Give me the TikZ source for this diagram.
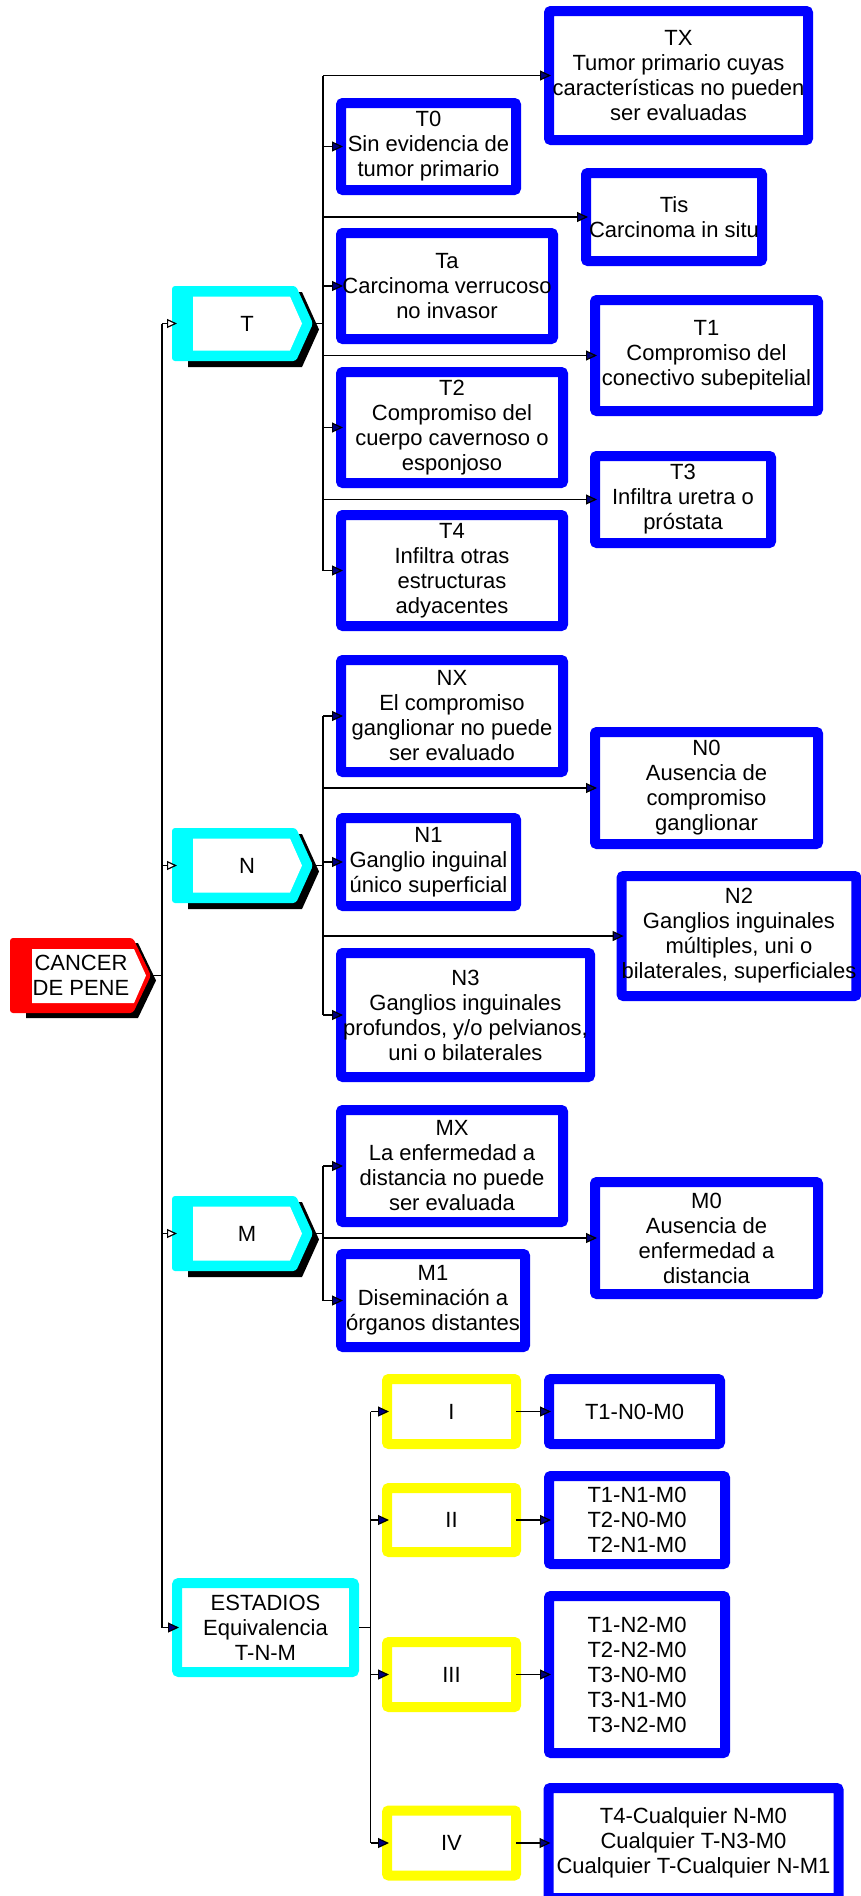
\documentclass[tikz,border=0pt]{standalone}
\usepackage{fontspec}
\setmainfont{Liberation Sans}
\usetikzlibrary{arrows.meta}

\definecolor{leafblue}{RGB}{0,0,255}
\definecolor{tabcyan}{RGB}{0,255,255}
\definecolor{stageyellow}{RGB}{255,255,0}
\definecolor{tipnavy}{RGB}{0,0,128}

\begin{document}
\begin{tikzpicture}[x=1pt,y=-1pt,line width=1.2pt,
    font=\fontsize{22}{25}\selectfont,
    box/.style={draw,line width=10pt,rounded corners=2pt,fill=white,inner sep=0pt,align=center},
    leaf node/.style={box,draw=leafblue},
    stage node/.style={box,draw=stageyellow},
    group node/.style={box,draw=tabcyan},
    arr/.style={-{Triangle[length=11pt,width=10pt,fill=tipnavy]},shorten >=-7pt},
    open arr/.style={-{Triangle[length=10pt,width=9pt,fill=white]},shorten >=-5pt}]
    \useasboundingbox (0,0) rectangle (860,1896);

    % root tab
    \fill[black] (26,943) -- (138,943) -- (156,980.5) -- (138,1018) -- (26,1018) -- cycle;
    \fill[red,rounded corners=3pt] (10,938) -- (133,938) -- (151,975.5) -- (133,1013) -- (10,1013) -- cycle;
    \fill[white] (32,949) -- (134,949) -- (146,975.5) -- (134,1003) -- (32,1003) -- cycle;
    \node[align=center] (root) at (81,975) {CANCER\\DE PENE};
    \coordinate (root-tip) at (151,975.5);

    % T, N, M tabs
    \foreach \name/\cy in {T/323.5,N/865.5,M/1233.5} {
        \fill[black] (188,\cy-31.5) -- (302,\cy-31.5) -- (319,\cy+6) -- (302,\cy+43.5) -- (188,\cy+43.5) -- cycle;
        \fill[tabcyan,rounded corners=3pt] (172,\cy-37.5) -- (296,\cy-37.5) -- (313,\cy) -- (296,\cy+37.5) -- (172,\cy+37.5) -- cycle;
        \fill[white] (193,\cy-27) -- (290,\cy-27) -- (302,\cy) -- (290,\cy+27) -- (193,\cy+27) -- cycle;
        \node (\name) at (247,\cy) {\name};
        \coordinate (\name-tip) at (313,\cy);
        \coordinate (\name-in) at (172,\cy);
    }

    % T leaves
    \node[leaf node,minimum width=259pt,minimum height=129pt] (TX) at (678.5,75.5) {TX\\Tumor primario cuyas\\características no pueden\\ser evaluadas};
    \node[leaf node,minimum width=175pt,minimum height=87pt] (T0) at (428.5,146.5) {T0\\Sin evidencia de\\tumor primario};
    \node[leaf node,minimum width=176pt,minimum height=88pt] (Tis) at (674,217) {Tis\\Carcinoma in situ};
    \node[leaf node,minimum width=212pt,minimum height=106pt] (Ta) at (447,286) {Ta\\Carcinoma verrucoso\\no invasor};
    \node[leaf node,minimum width=223pt,minimum height=111pt] (T1) at (706.5,355.5) {T1\\Compromiso del\\conectivo subepitelial};
    \node[leaf node,minimum width=222pt,minimum height=111pt] (T2) at (452,427.5) {T2\\Compromiso del\\cuerpo cavernoso o\\esponjoso};
    \node[leaf node,minimum width=176pt,minimum height=87pt] (T3) at (683,499.5) {T3\\Infiltra uretra o\\próstata};
    \node[leaf node,minimum width=222pt,minimum height=111pt] (T4) at (452,570.5) {T4\\Infiltra otras\\estructuras\\adyacentes};

    % N leaves
    \node[leaf node,minimum width=222pt,minimum height=112pt] (NX) at (452,716) {NX\\El compromiso\\ganglionar no puede\\ser evaluado};
    \node[leaf node,minimum width=223pt,minimum height=112pt] (N0) at (706.5,788) {N0\\Ausencia de\\compromiso\\ganglionar};
    \node[leaf node,minimum width=175pt,minimum height=88pt] (N1) at (428.5,862) {N1\\Ganglio inguinal\\único superficial};
    \node[leaf node,minimum width=234pt,minimum height=120pt] (N2) at (739,936) {N2\\Ganglios inguinales\\múltiples, uni o\\bilaterales, superficiales};
    \node[leaf node,minimum width=249pt,minimum height=124pt] (N3) at (465.5,1015) {N3\\Ganglios inguinales\\profundos, y/o pelvianos,\\uni o bilaterales};

    % M leaves
    \node[leaf node,minimum width=222pt,minimum height=112pt] (MX) at (452,1166) {MX\\La enfermedad a\\distancia no puede\\ser evaluada};
    \node[leaf node,minimum width=223pt,minimum height=112pt] (M0) at (706.5,1238) {M0\\Ausencia de\\enfermedad a\\distancia};
    \node[leaf node,minimum width=184pt,minimum height=93pt] (M1) at (433,1300.5) {M1\\Diseminación a\\órganos distantes};

    % stages
    \node[group node,minimum width=177pt,minimum height=89pt] (stages) at (265.5,1627.5) {ESTADIOS\\Equivalencia\\T-N-M};
    \node[stage node,minimum width=129pt,minimum height=65pt] (S1) at (451.5,1411.5) {I};
    \node[stage node,minimum width=129pt,minimum height=64pt] (S2) at (451.5,1520) {II};
    \node[stage node,minimum width=129pt,minimum height=65pt] (S3) at (451.5,1674.5) {III};
    \node[stage node,minimum width=129pt,minimum height=65pt] (S4) at (451.5,1843) {IV};
    \node[leaf node,minimum width=171pt,minimum height=65pt] (E1) at (634.5,1411.5) {T1-N0-M0};
    \node[leaf node,minimum width=176pt,minimum height=88pt] (E2) at (637,1520) {T1-N1-M0\\T2-N0-M0\\T2-N1-M0};
    \node[leaf node,minimum width=176pt,minimum height=157pt] (E3) at (637,1674.5) {T1-N2-M0\\T2-N2-M0\\T3-N0-M0\\T3-N1-M0\\T3-N2-M0};
    \node[leaf node,minimum width=290pt,minimum height=110pt] (E4) at (693.5,1843) {T4-Cualquier N-M0\\Cualquier T-N3-M0\\Cualquier T-Cualquier N-M1};

    % connectors
    \coordinate (trunk) at (162,0);
    \coordinate (Tsplit) at (323,0);
    \coordinate (Ssplit) at (370.5,0);

    \draw (root-tip) -- (trunk |- root-tip);
    \draw (trunk |- T-in) -- (trunk |- stages);
    \foreach \name in {T,N,M}
        \draw[open arr] (trunk |- \name-in) -- (\name-in);
    \draw[arr] (trunk |- stages) -- (stages.west);

    \draw (T-tip) -- (Tsplit |- T-tip);
    \draw (Tsplit |- TX) -- (Tsplit |- T4);
    \foreach \b in {TX,T0,Tis,Ta,T1,T2,T3,T4}
        \draw[arr] (Tsplit |- \b) -- (\b.west);

    \draw (N-tip) -- (Tsplit |- N-tip);
    \draw (Tsplit |- NX) -- (Tsplit |- N3);
    \foreach \b in {NX,N0,N1,N2,N3}
        \draw[arr] (Tsplit |- \b) -- (\b.west);

    \draw (M-tip) -- (Tsplit |- M-tip);
    \draw (Tsplit |- MX) -- (Tsplit |- M1);
    \foreach \b in {MX,M0,M1}
        \draw[arr] (Tsplit |- \b) -- (\b.west);

    \draw (stages.east) -- (Ssplit |- stages);
    \draw (Ssplit |- S1) -- (Ssplit |- S4);
    \foreach \i in {1,...,4} {
        \draw[arr] (Ssplit |- S\i) -- (S\i.west);
        \draw[arr] ([xshift=-5pt]S\i.east) -- (E\i.west);
    }
\end{tikzpicture}
\end{document}
